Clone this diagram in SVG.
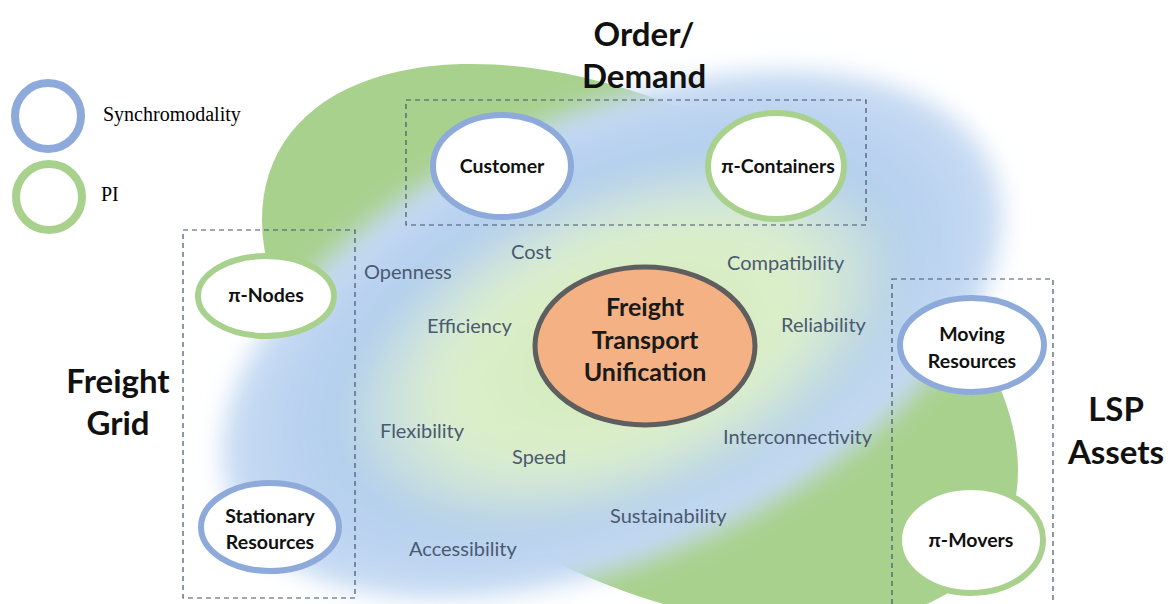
<svg xmlns="http://www.w3.org/2000/svg" width="1173" height="604" viewBox="0 0 1173 604">
<style>
.lbl{font-family:Lato,"Liberation Sans",sans-serif;font-weight:bold;font-size:33px;fill:#111;text-anchor:middle}
.nt{font-family:Lato,"Liberation Sans",sans-serif;font-weight:bold;font-size:19.5px;fill:#111;text-anchor:middle}
.ct{font-family:Lato,"Liberation Sans",sans-serif;font-weight:bold;font-size:25px;fill:#1a1a1a;text-anchor:middle}
.at{font-family:Lato,"Liberation Sans",sans-serif;font-size:20px;fill:#4b5a70}
.leg{font-family:"Liberation Serif",serif;font-size:20px;fill:#000}
.box{fill:none;stroke:#44546a;stroke-width:1.2;stroke-dasharray:5 4}
.nb{fill:#fff;stroke:#8eaadb;stroke-width:6}
.ng{fill:#fff;stroke:#a9d18e;stroke-width:6}
</style>
<defs>
<filter id="blur" x="-20%" y="-20%" width="140%" height="140%"><feGaussianBlur stdDeviation="12"/></filter>
<filter id="blur2" x="-30%" y="-30%" width="160%" height="160%"><feGaussianBlur stdDeviation="20"/></filter>
<radialGradient id="bg" cx="50%" cy="50%" r="50%">
<stop offset="0" stop-color="#d6e6f6"/>
<stop offset="0.7" stop-color="#b1cdef"/>
<stop offset="1" stop-color="#c9dcf3"/>
</radialGradient>
<radialGradient id="gg" cx="50%" cy="50%" r="50%">
<stop offset="0" stop-color="#cfe8b8"/>
<stop offset="0.6" stop-color="#dcefcb"/>
<stop offset="1" stop-color="#dcefcb" stop-opacity="0"/>
</radialGradient>
</defs>
<rect width="1173" height="604" fill="#fff"/>
<g id="background">
<ellipse cx="640" cy="345" rx="410" ry="232" transform="rotate(28 640 345)" fill="#a9d18e"/>
<ellipse cx="612" cy="335" rx="415" ry="222" transform="rotate(-24 612 335)" fill="url(#bg)" filter="url(#blur)"/>
<ellipse cx="625" cy="345" rx="310" ry="165" transform="rotate(-22 625 345)" fill="url(#gg)" filter="url(#blur2)"/>
</g>
<g id="legend">
<circle cx="48" cy="116" r="33" fill="#fff" stroke="#8eaadb" stroke-width="8"/>
<text class="leg" x="103" y="121">Synchromodality</text>
<circle cx="49" cy="197" r="33" fill="#fff" stroke="#a9d18e" stroke-width="8"/>
<text class="leg" x="101" y="201">PI</text>
</g>
<g id="groups">
<rect class="box" x="406" y="100" width="460" height="125"/>
<rect class="box" x="183" y="230" width="172" height="368"/>
<rect class="box" x="892" y="279" width="161" height="330"/>
<text class="lbl" x="644" y="46">Order/</text>
<text class="lbl" x="644" y="88">Demand</text>
<text class="lbl" x="118" y="393">Freight</text>
<text class="lbl" x="118" y="435">Grid</text>
<text class="lbl" x="1116" y="421">LSP</text>
<text class="lbl" x="1116" y="464">Assets</text>
</g>
<g id="attributes">
<text class="at" x="511" y="259">Cost</text>
<text class="at" x="364" y="279">Openness</text>
<text class="at" x="727" y="270">Compatibility</text>
<text class="at" x="427" y="333">Efficiency</text>
<text class="at" x="781" y="332">Reliability</text>
<text class="at" x="380" y="438">Flexibility</text>
<text class="at" x="512" y="464">Speed</text>
<text class="at" x="723" y="444">Interconnectivity</text>
<text class="at" x="610" y="523">Sustainability</text>
<text class="at" x="409" y="556">Accessibility</text>
</g>
<g id="center">
<ellipse cx="645" cy="346" rx="110" ry="79" fill="#f4b183" stroke="#5e5e5e" stroke-width="5"/>
<text class="ct" x="645" y="316">Freight</text>
<text class="ct" x="645" y="349">Transport</text>
<text class="ct" x="645" y="381">Unification</text>
</g>
<g id="customer"><ellipse class="nb" cx="502" cy="166" rx="69" ry="51"/><text class="nt" x="502" y="173">Customer</text></g>
<g id="pi-containers"><ellipse class="ng" cx="776" cy="166" rx="68" ry="53"/><text class="nt" x="778" y="173">π-Containers</text></g>
<g id="pi-nodes"><ellipse class="ng" cx="266" cy="296" rx="68" ry="40"/><text class="nt" x="266" y="302">π-Nodes</text></g>
<g id="stationary"><ellipse class="nb" cx="270" cy="527" rx="69" ry="44"/><text class="nt" x="270" y="523">Stationary</text><text class="nt" x="270" y="549">Resources</text></g>
<g id="moving"><ellipse class="nb" cx="972" cy="345" rx="72" ry="47"/><text class="nt" x="972" y="341">Moving</text><text class="nt" x="972" y="368">Resources</text></g>
<g id="pi-movers"><ellipse class="ng" cx="971" cy="540" rx="72" ry="53"/><text class="nt" x="971" y="547">π-Movers</text></g>
<g id="connectors"></g>
</svg>
